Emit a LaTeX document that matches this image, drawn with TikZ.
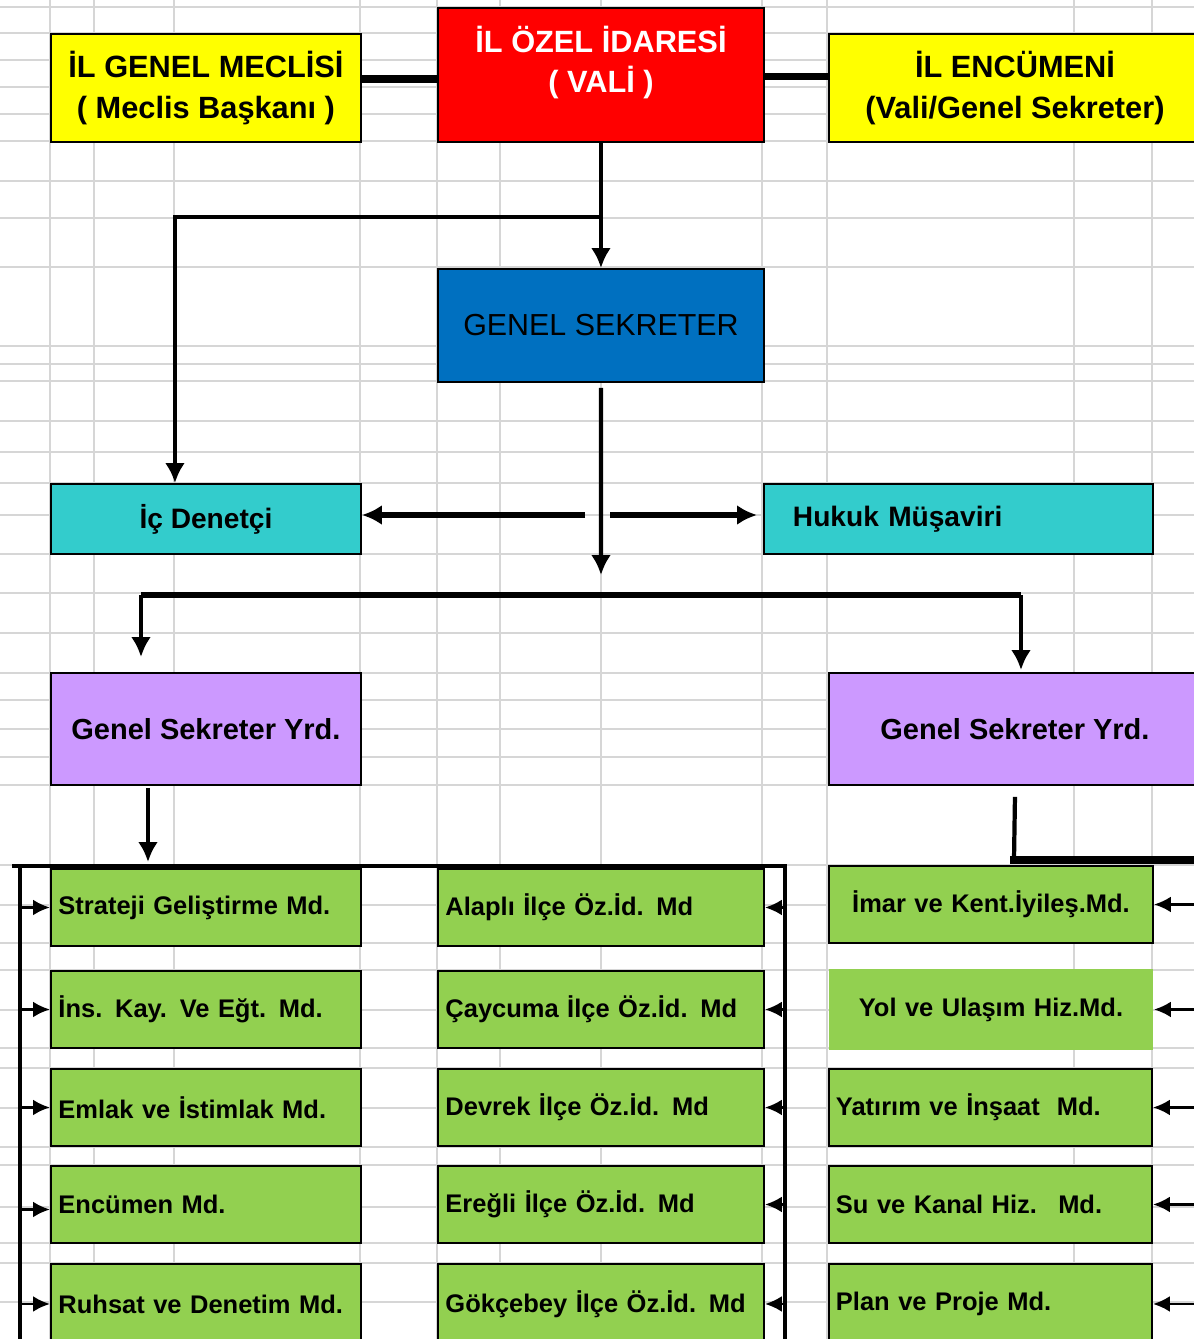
\documentclass[tikz,border=0pt]{standalone}
\usepackage{fontspec}
\setmainfont{Liberation Sans}
\usetikzlibrary{arrows.meta}
\definecolor{xlyellow}{RGB}{255,255,0}
\definecolor{xlred}{RGB}{255,0,0}
\definecolor{xlblue}{RGB}{0,112,192}
\definecolor{xlteal}{RGB}{51,204,204}
\definecolor{xlviolet}{RGB}{204,153,255}
\definecolor{xlgreen}{RGB}{146,208,80}
\definecolor{gridgray}{RGB}{214,214,214}
\tikzset{cell/.style = {draw=black, line width=1.1pt, rectangle, inner sep=0pt, anchor=north west, align=center}}
\tikzset{title/.style = {cell, font=\fontsize{17.5}{23}\selectfont\bfseries}}
\tikzset{md/.style = {cell, fill=xlgreen, font=\fontsize{14.5}{17}\selectfont\bfseries, minimum height=15.4mm, inner xsep=1.5mm, text width=#1, align=left}}
\tikzset{gridline/.style = {draw=gridgray, line width=1.2pt}}
\tikzset{line/.style = {line width=2.4pt}}
\tikzset{arr/.style = {line width=2.4pt, -{Latex[length=4mm, width=4mm]}}}
\tikzset{small/.style = {line width=1.6pt, -{Latex[length=3.4mm, width=3.2mm]}}}

\begin{document}
\begin{tikzpicture}[x=0.2mm, y=-0.2mm]
      \useasboundingbox (0,0) rectangle (1194,1339);
      % sheet grid
      \draw[gridline] (50,0) -- (50,1339) (94,0) -- (94,1339) (174,0) -- (174,1339)
        (360,0) -- (360,1339) (437,0) -- (437,1339) (500,0) -- (500,1339)
        (601,0) -- (601,1339) (762,0) -- (762,1339) (827,0) -- (827,1339)
        (1074,0) -- (1074,1339) (1152,0) -- (1152,1339);
      \draw[gridline] (0,7) -- (1194,7) (0,33) -- (1194,33) (0,60) -- (1194,60)
        (0,87) -- (1194,87) (0,114) -- (1194,114) (0,141) -- (1194,141)
        (0,181) -- (1194,181) (0,218) -- (1194,218) (0,267) -- (1194,267)
        (0,346) -- (1194,346) (0,364) -- (1194,364) (0,381) -- (1194,381)
        (0,421) -- (1194,421) (0,452) -- (1194,452) (0,483) -- (1194,483)
        (0,515) -- (1194,515) (0,554) -- (1194,554) (0,593) -- (1194,593)
        (0,633) -- (1194,633) (0,673) -- (1194,673) (0,700) -- (1194,700)
        (0,729) -- (1194,729) (0,757) -- (1194,757) (0,785) -- (1194,785)
        (0,865) -- (1194,865) (0,905) -- (1194,905) (0,943) -- (1194,943)
        (0,970) -- (1194,970) (0,1010) -- (1194,1010) (0,1048) -- (1194,1048)
        (0,1068) -- (1194,1068) (0,1108) -- (1194,1108) (0,1147) -- (1194,1147)
        (0,1165) -- (1194,1165) (0,1207) -- (1194,1207) (0,1243) -- (1194,1243)
        (0,1263) -- (1194,1263) (0,1302) -- (1194,1302);

      % top row
      \node [title, fill=xlyellow, minimum width=62mm, minimum height=21.6mm] (meclis) at (50,33) {İL GENEL MECLİSİ\\( Meclis Başkanı )};
      \node [title, fill=xlred, text=white, minimum width=65.2mm, text height=15.6mm, text depth=8.4mm, inner ysep=1.4mm] (ozel) at (437,7) {İL ÖZEL İDARESİ\\( VALİ )};
      \node [title, fill=xlyellow, minimum width=74.4mm, minimum height=21.6mm] (encumen) at (828,33) {İL ENCÜMENİ\\(Vali/Genel Sekreter)};

      \node [cell, fill=xlblue, font=\fontsize{17.3}{20}\selectfont, minimum width=65.2mm, minimum height=22.6mm] (gs) at (437,268) {GENEL SEKRETER};

      \node [cell, fill=xlteal, font=\fontsize{16}{19}\selectfont\bfseries, minimum width=62mm, minimum height=14mm] (icd) at (50,483) {İç Denetçi};
      \node [cell, fill=xlteal, font=\fontsize{16}{19}\selectfont\bfseries, minimum height=14mm, inner xsep=5.8mm, text width=66.2mm, align=left] (hukuk) at (763,483) {Hukuk Müşaviri};

      \node [cell, fill=xlviolet, font=\fontsize{16.5}{19}\selectfont\bfseries, minimum width=62mm, minimum height=22.4mm] (gsy1) at (50,672) {Genel Sekreter Yrd.};
      \node [cell, fill=xlviolet, font=\fontsize{16.5}{19}\selectfont\bfseries, minimum width=74.4mm, minimum height=22.4mm] (gsy2) at (828,672) {Genel Sekreter Yrd.};

      % units
      \node [md=59mm] (s1) at (50,868) {Strateji Geliştirme Md.};
      \node [md=59mm] (s2) at (50,970) {İns. Kay. Ve Eğt. Md.};
      \node [md=59mm] (s3) at (50,1068) {Emlak ve İstimlak Md.};
      \node [md=59mm] (s4) at (50,1165) {Encümen Md.};
      \node [md=59mm, minimum height=16mm] (s5) at (50,1263) {Ruhsat ve Denetim Md.};

      \node [md=62.2mm] (a1) at (437,868) {Alaplı İlçe Öz.İd. Md};
      \node [md=62.2mm] (a2) at (437,970) {Çaycuma İlçe Öz.İd. Md};
      \node [md=62.2mm] (a3) at (437,1068) {Devrek İlçe Öz.İd. Md};
      \node [md=62.2mm] (a4) at (437,1165) {Ereğli İlçe Öz.İd. Md};
      \node [md=62.2mm, minimum height=16mm] (a5) at (437,1263) {Gökçebey İlçe Öz.İd. Md};

      \node [md=61.8mm, align=center, minimum height=15.4mm] (r1) at (828,865) {İmar ve Kent.İyileş.Md.};
      \node [md=61.8mm, align=center, draw=none, minimum height=16.2mm] (r2) at (828,968) {Yol ve Ulaşım Hiz.Md.};
      \node [md=61.8mm, inner xsep=1.4mm] (r3) at (828,1068) {Yatırım ve İnşaat \ Md.};
      \node [md=61.8mm, inner xsep=1.4mm] (r4) at (828,1165) {Su ve Kanal Hiz. \ Md.};
      \node [md=61.8mm, inner xsep=1.4mm, minimum height=16mm] (r5) at (828,1263) {Plan ve Proje Md.};

      % connectors
      \draw [line width=4.5pt] ([yshift=1.8mm]meclis.east) -- ([yshift=1.8mm]meclis.east -| ozel.west);
      \draw [line width=4.5pt] ([yshift=-0.3mm]ozel.east) -- ([yshift=-0.3mm]ozel.east -| encumen.west);

      \coordinate (dal) at (600,217);
      \draw [arr] (ozel) -- (gs);
      \draw [arr] (dal) -| ([xshift=-6.2mm]icd.north);

      \coordinate (gsalt) at (601,575);
      \coordinate (solucu) at (585,515);
      \coordinate (sagucu) at (610,515);
      \draw [arr] ([yshift=-1mm]gs.south) -- (gsalt);
      \draw [arr, line width=3pt] (solucu) -- (solucu -| icd.east);
      \draw [arr, line width=3pt] (sagucu) -- ([xshift=-1.2mm]sagucu -| hukuk.west);

      \coordinate (yatayL) at (141,595);
      \coordinate (yatayR) at (1021,595);
      \draw [line, line width=3pt] (yatayL) -- (yatayR);
      \draw [arr] (yatayL) -- ([yshift=3mm]yatayL |- gsy1.north);
      \draw [arr] (yatayR) -- ([yshift=0.4mm]yatayR |- gsy2.north);

      \coordinate (ustL) at (12,866);
      \coordinate (ustM) at (787,866);
      \coordinate (solhat) at (20,866);
      \coordinate (solhatalt) at (20,1345);
      \coordinate (orthat) at (785,866);
      \coordinate (orthatalt) at (785,1345);
      \coordinate (inis) at (148,862);
      \draw [arr] ([yshift=-0.4mm]gsy1.south -| inis) -- (inis);
      \draw [line] (ustL) -- (ustM);
      \draw [line, line width=2.8pt] (solhat) -- (solhatalt);
      \draw [line, line width=2.8pt] (orthat) -- (orthatalt);

      \coordinate (sagust) at (1014,860);
      \coordinate (saghat) at (1194,860);
      \draw [line] ([yshift=-2.2mm]gsy2.south) -- (sagust);
      \draw [line width=4pt] ([xshift=-0.8mm]sagust) -- (saghat);

      \draw [small] (solhat |- s1) -- (s1);
      \draw [small] (solhat |- s2) -- (s2);
      \draw [small] (solhat |- s3) -- (s3);
      \draw [small] ([yshift=-1mm]solhat |- s4) -- ([yshift=-1mm]s4.west);
      \draw [small] (solhat |- s5) -- (s5);

      \draw [small] (orthat |- a1) -- (a1);
      \draw [small] (orthat |- a2) -- (a2);
      \draw [small] (orthat |- a3) -- (a3);
      \draw [small] (orthat |- a4) -- (a4);
      \draw [small] (orthat |- a5) -- (a5);

      \draw [small] (saghat |- r1) -- (r1);
      \draw [small] (saghat |- r2) -- (r2);
      \draw [small] (saghat |- r3) -- (r3);
      \draw [small] (saghat |- r4) -- (r4);
      \draw [small] (saghat |- r5) -- (r5);
    \end{tikzpicture}
\end{document}
